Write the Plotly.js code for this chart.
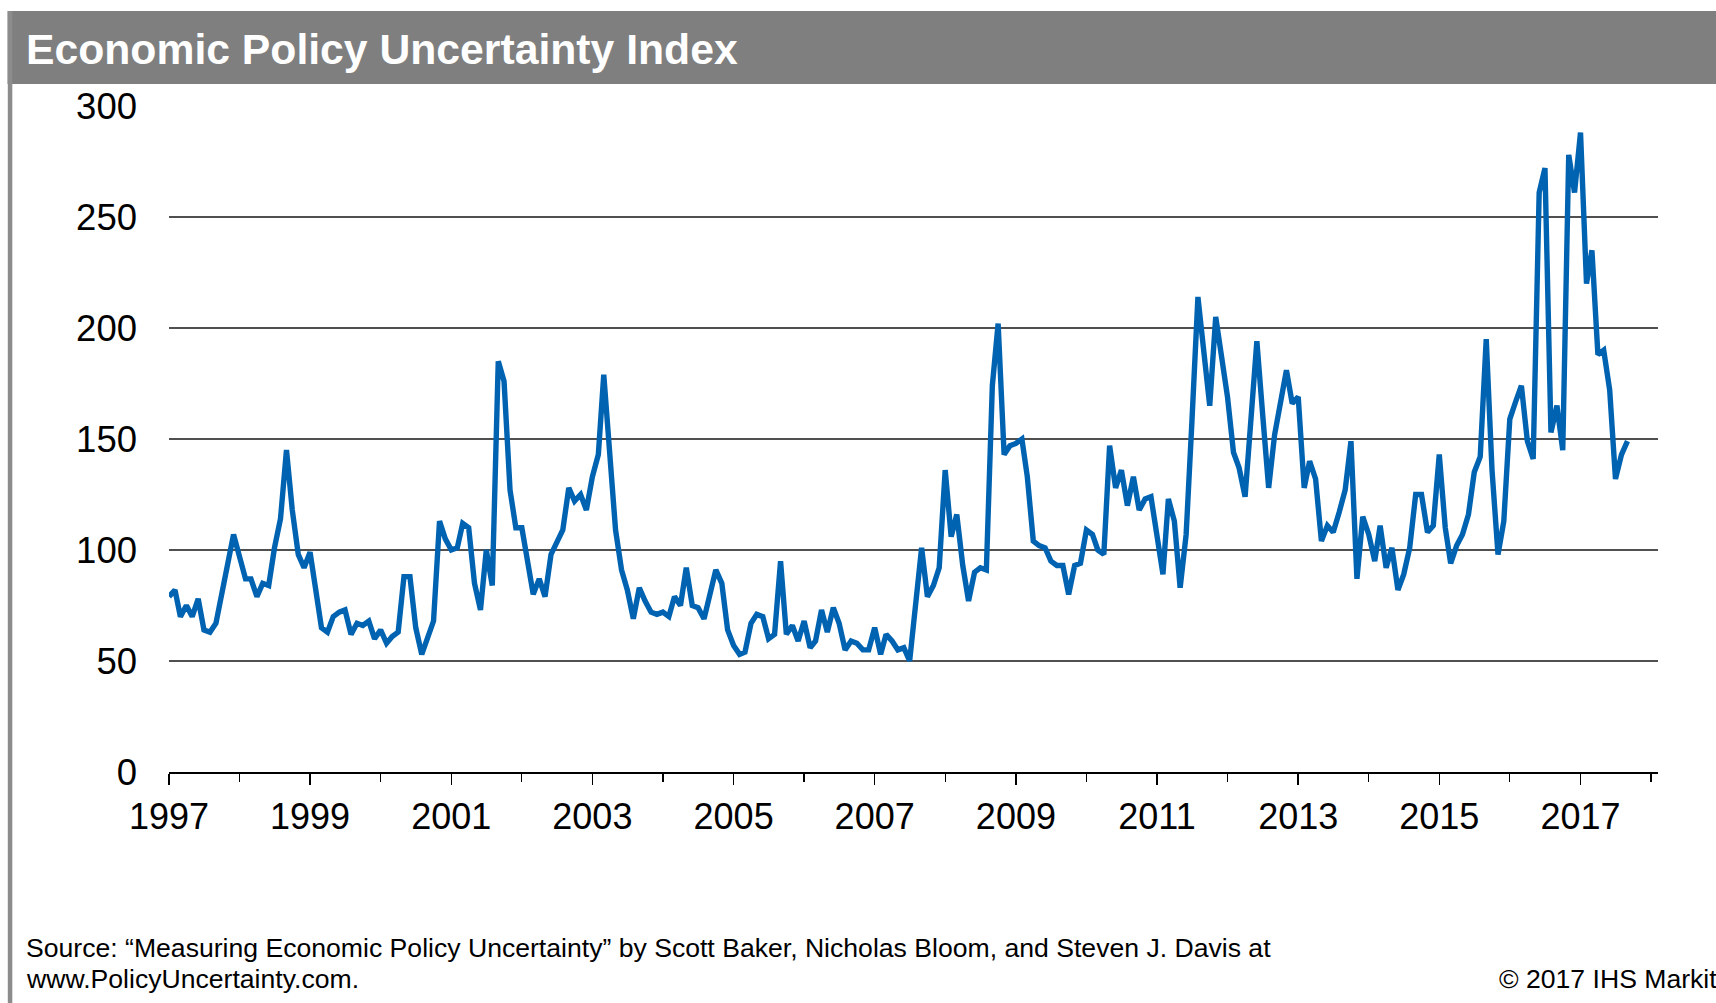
<!DOCTYPE html>
<html>
<head>
<meta charset="utf-8">
<script src="https://cdn.plot.ly/plotly-3.0.1.min.js"></script>
<style>
  html, body { margin: 0; padding: 0; background: #ffffff; }
  #chart { width: 1716px; height: 1003px; }
</style>
</head>
<body>
<div id="chart"></div>
<script>
// Monthly Economic Policy Uncertainty Index, January 1997 onwards
const startYear = 1997;
const startMonth = 1;

const epu1997 = [79, 82, 70, 75, 70, 78, 64, 63, 67, 80, 94, 107];
const epu1998 = [97, 87, 87, 79, 85, 84, 101, 114, 145, 118, 98, 92];
const epu1999 = [99, 81, 65, 63, 70, 72, 73, 62, 67, 66, 68, 60];
const epu2000 = [64, 58, 61, 63, 88, 88, 65, 53, 61, 68, 113, 105];
const epu2001 = [100, 101, 112, 110, 85, 73, 100, 84, 185, 176, 127, 110];
const epu2002 = [110, 94, 80, 87, 79, 98, 103, 109, 128, 122, 125, 118];
const epu2003 = [133, 143, 179, 143, 109, 91, 82, 69, 83, 77, 72, 71];
const epu2004 = [72, 70, 79, 75, 92, 75, 74, 69, 79, 91, 85, 64];
const epu2005 = [57, 53, 54, 67, 71, 70, 60, 62, 95, 62, 66, 59];
const epu2006 = [68, 56, 59, 73, 63, 74, 67, 55, 59, 58, 55, 55];
const epu2007 = [65, 53, 62, 59, 55, 56, 50, 76, 101, 79, 84, 92];
const epu2008 = [136, 106, 116, 93, 77, 90, 92, 91, 174, 202, 143, 147];
const epu2009 = [148, 150, 133, 104, 102, 101, 95, 93, 93, 80, 93, 94];
const epu2010 = [109, 107, 100, 98, 147, 128, 136, 120, 133, 118, 123, 124];
const epu2011 = [107, 89, 123, 113, 83, 107, 158, 214, 189, 165, 205, 186];
const epu2012 = [169, 144, 137, 124, 158, 194, 161, 128, 152, 168, 181, 166];
const epu2013 = [169, 128, 140, 132, 104, 111, 108, 117, 127, 149, 87, 115];
const epu2014 = [107, 95, 111, 92, 101, 82, 89, 101, 125, 125, 108, 111];
const epu2015 = [143, 110, 94, 102, 107, 116, 135, 142, 195, 136, 98, 113];
const epu2016 = [159, 167, 174, 149, 141, 261, 272, 153, 165, 145, 278, 261];
const epu2017 = [288, 220, 235, 188, 190, 172, 132, 143, 149];

const yTickValues = [0, 50, 100, 150, 200, 250, 300];

const titleText = 'Economic Policy Uncertainty Index';
const sourceLine1 = 'Source: \u201cMeasuring Economic Policy Uncertainty\u201d by Scott Baker, Nicholas Bloom, and Steven J. Davis at';
const sourceLine2 = 'www.PolicyUncertainty.com.';
const copyrightText = '\u00a9 2017 IHS Markit';

const epuValues = [].concat(
  epu1997, epu1998, epu1999, epu2000, epu2001, epu2002, epu2003,
  epu2004, epu2005, epu2006, epu2007, epu2008, epu2009, epu2010,
  epu2011, epu2012, epu2013, epu2014, epu2015, epu2016, epu2017
);

// one date per monthly observation
const monthDates = epuValues.map((_, i) => {
  const total = (startMonth - 1) + i;
  const y = startYear + Math.floor(total / 12);
  const m = (total % 12) + 1;
  return y + '-' + String(m).padStart(2, '0') + '-01';
});

// page geometry (pixels)
const W = 1716, H = 1003;
const M = { l: 168.5, r: 58, t: 106, b: 231.4 };
const plotW = W - M.l - M.r;
const plotH = H - M.t - M.b;
const px = x => (x - M.l) / plotW;          // pixel x -> paper x
const py = y => (H - M.b - y) / plotH;      // pixel y -> paper y

const FONT = '"Liberation Sans", Arial, Helvetica, sans-serif';
const xRange = ['1997-01-01', '2018-02-06'];

const trace = {
  type: 'scatter',
  mode: 'lines',
  x: monthDates,
  y: epuValues,
  line: { color: '#0063b1', width: 5.4, shape: 'linear' },
  hoverinfo: 'x+y',
  showlegend: false
};

const layout = {
  width: W,
  height: H,
  margin: M,
  paper_bgcolor: '#ffffff',
  plot_bgcolor: '#ffffff',
  font: { family: FONT, color: '#000000' },
  showlegend: false,
  title: {
    text: titleText,
    xref: 'container', yref: 'container',
    x: 26 / W, xanchor: 'left',
    y: 1 - 49 / H, yanchor: 'middle',
    font: { family: FONT, size: 42.7, color: '#ffffff', weight: 700 }
  },
  xaxis: {
    type: 'date',
    range: xRange,
    tick0: '1997-01-01',
    dtick: 'M24',
    tickformat: '%Y',
    ticks: 'outside',
    ticklen: 11,
    tickwidth: 1.5,
    tickcolor: '#000000',
    minor: { ticks: 'outside', ticklen: 8, tickwidth: 1.3, tickcolor: '#000000', dtick: 'M12', tick0: '1997-01-01', showgrid: false },
    showgrid: false,
    zeroline: false,
    showline: true,
    linecolor: '#000000',
    linewidth: 1.5,
    ticklabelstandoff: 1,
    tickfont: { family: FONT, size: 36, color: '#000000' },
    fixedrange: true
  },
  // upper halves of the biennial ticks, so they cross the axis line
  xaxis2: {
    type: 'date',
    overlaying: 'x',
    anchor: 'y',
    side: 'bottom',
    range: xRange,
    tick0: '1997-01-01',
    dtick: 'M24',
    ticks: 'inside',
    ticklen: 11,
    tickwidth: 1.5,
    tickcolor: '#000000',
    showticklabels: false,
    showgrid: false,
    zeroline: false,
    showline: false,
    fixedrange: true
  },
  yaxis: {
    range: [0, 300],
    tickvals: yTickValues,
    ticktext: yTickValues.map(String),
    ticks: '',
    showgrid: true,
    gridcolor: '#505050',
    gridwidth: 1.1,
    zeroline: false,
    showline: false,
    ticklabelstandoff: 31,
    tickfont: { family: FONT, size: 36.5, color: '#000000' },
    fixedrange: true
  },
  shapes: [
    // grey title band
    {
      type: 'rect', xref: 'paper', yref: 'paper', layer: 'below',
      x0: px(7), x1: px(W + 4), y0: py(84), y1: py(11),
      fillcolor: '#7f7f7f', line: { width: 0 }
    },
    // frame rule down the left side
    {
      type: 'line', xref: 'paper', yref: 'paper', layer: 'below',
      x0: px(9.5), x1: px(9.5), y0: py(11), y1: py(H + 4),
      line: { color: '#8c8c8c', width: 4.5 }
    }
  ],
  annotations: [
    {
      text: sourceLine1, xref: 'paper', yref: 'paper',
      x: px(23), y: py(947), xanchor: 'left', yanchor: 'middle',
      showarrow: false, font: { family: FONT, size: 26.6, color: '#000000' }
    },
    {
      text: sourceLine2, xref: 'paper', yref: 'paper',
      x: px(23), y: py(978), xanchor: 'left', yanchor: 'middle',
      showarrow: false, font: { family: FONT, size: 26.6, color: '#000000' }
    },
    {
      text: copyrightText, xref: 'paper', yref: 'paper',
      x: px(1497), y: py(978), xanchor: 'left', yanchor: 'middle',
      showarrow: false, font: { family: FONT, size: 26.6, color: '#000000' }
    }
  ]
};

Plotly.newPlot('chart', [trace], layout, { displayModeBar: false, staticPlot: true });
</script>
</body>
</html>
